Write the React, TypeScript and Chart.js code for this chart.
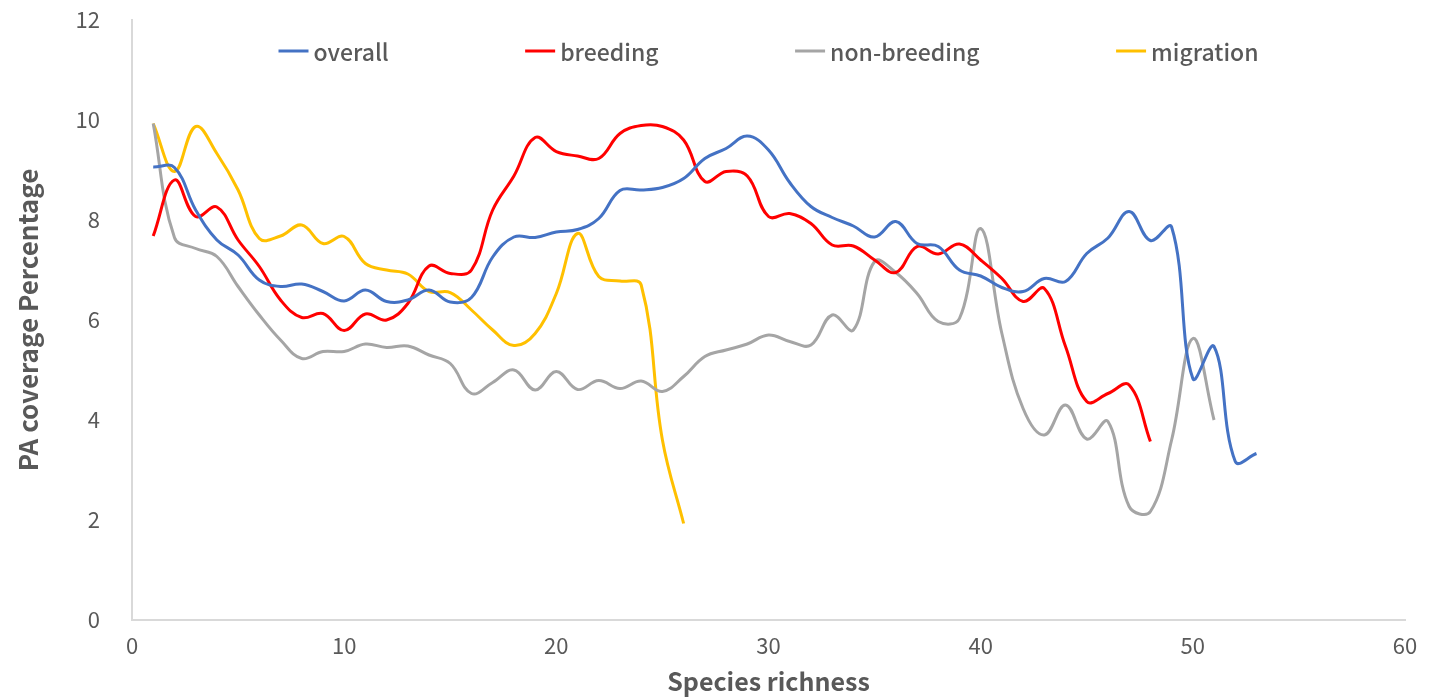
import React, { useEffect, useRef } from "react";
import { Chart, registerables } from "chart.js";

Chart.register(...registerables);

const seriesNames = ["overall", "breeding", "non-breeding", "migration"];
const seriesColors = ["#4472C4", "#FF0000", "#A5A5A5", "#FFC000"];

const richness = [
  1, 2, 3, 4, 5, 6, 7, 8, 9, 10, 11, 12, 13, 14, 15, 16, 17, 18, 19, 20,
  21, 22, 23, 24, 25, 26, 27, 28, 29, 30, 31, 32, 33, 34, 35, 36, 37, 38, 39, 40,
  41, 42, 43, 44, 45, 46, 47, 48, 49, 50, 51, 52, 53,
];

const overall = [
  9.06, 9.05, 8.2, 7.6, 7.3, 6.8, 6.67, 6.72, 6.57, 6.38,
  6.6, 6.37, 6.4, 6.6, 6.36, 6.45, 7.26, 7.66, 7.65, 7.76,
  7.81, 8.03, 8.59, 8.6, 8.65, 8.83, 9.23, 9.43, 9.68, 9.4,
  8.75, 8.27, 8.05, 7.88, 7.66, 7.97, 7.53, 7.47, 7.0, 6.88,
  6.65, 6.57, 6.83, 6.77, 7.33, 7.64, 8.17, 7.59, 7.86, 4.83,
  5.47, 3.17, 3.33,
];

const breeding = [
  7.68, 8.8, 8.07, 8.26, 7.6, 7.07, 6.4, 6.05, 6.13, 5.79,
  6.12, 6.0, 6.33, 7.08, 6.93, 7.0, 8.2, 8.88, 9.65, 9.37,
  9.28, 9.23, 9.73, 9.89, 9.87, 9.6, 8.77, 8.97, 8.88, 8.07,
  8.13, 7.93, 7.5, 7.48, 7.2, 6.95, 7.47, 7.32, 7.52, 7.2,
  6.83, 6.37, 6.63, 5.47, 4.37, 4.53, 4.7, 3.57,
];

const nonBreeding = [
  9.93, 7.65, 7.43, 7.27, 6.67, 6.1, 5.6, 5.23, 5.37, 5.37,
  5.52, 5.45, 5.48, 5.3, 5.13, 4.53, 4.75, 5.0, 4.6, 4.97,
  4.61, 4.79, 4.63, 4.78, 4.57, 4.87, 5.27, 5.4, 5.52, 5.7,
  5.57, 5.5, 6.1, 5.8, 7.17, 6.95, 6.53, 5.97, 6.03, 7.83,
  5.73, 4.23, 3.7, 4.3, 3.62, 3.97, 2.27, 2.17, 3.6, 5.63,
  4.0,
];

const migration = [
  9.93, 8.97, 9.87, 9.33, 8.6, 7.63, 7.68, 7.9, 7.53, 7.67,
  7.13, 7.0, 6.92, 6.57, 6.55, 6.2, 5.8, 5.49, 5.73, 6.53,
  7.73, 6.87, 6.78, 6.7, 3.6, 1.93,
];

const allSeries = [overall, breeding, nonBreeding, migration];

const FONT = "'Noto Sans CJK SC', 'Noto Sans', sans-serif";
const TEXT_COLOR = "#595959";

const legendPlugin = {
  id: "insideLegend",
  afterDraw(chart: any) {
    const { ctx, chartArea } = chart;
    const sampleW = 30;
    const textGap = 5;
    const totalW = 980;
    const y = 51;
    ctx.save();
    ctx.font = `500 23px ${FONT}`;
    const items = chart.data.datasets.map((ds: any) => ({
      label: ds.label,
      color: ds.borderColor,
      w: ctx.measureText(ds.label).width,
    }));
    const itemsW = items.reduce((s: number, it: any) => s + sampleW + textGap + it.w, 0);
    const gap = (totalW - itemsW) / (items.length - 1);
    let x = (chartArea.left + chartArea.right) / 2 - totalW / 2;
    ctx.textBaseline = "middle";
    ctx.textAlign = "left";
    items.forEach((it: any) => {
      ctx.strokeStyle = it.color;
      ctx.lineWidth = 3;
      ctx.beginPath();
      ctx.moveTo(x, y);
      ctx.lineTo(x + sampleW, y);
      ctx.stroke();
      ctx.fillStyle = TEXT_COLOR;
      ctx.fillText(it.label, x + sampleW + textGap, y + 1);
      x += sampleW + textGap + it.w + gap;
    });
    ctx.restore();
  },
};

export default function App() {
  const canvasRef = useRef<HTMLCanvasElement | null>(null);

  useEffect(() => {
    document.body.style.margin = "0";
    const canvas = canvasRef.current;
    if (!canvas) return;
    const chart = new Chart(canvas, {
      type: "line",
      data: {
        datasets: allSeries.map((vals, si) => ({
          label: seriesNames[si],
          data: vals.map((v, i) => ({ x: richness[i], y: v })),
          borderColor: seriesColors[si],
          backgroundColor: seriesColors[si],
          borderWidth: 3,
          pointRadius: 0,
          pointHoverRadius: 0,
          tension: 0.4,
          fill: false,
        })),
      },
      options: {
        animation: false,
        responsive: false,
        maintainAspectRatio: false,
        events: [],
        layout: { padding: { top: 20, right: 34, left: 0, bottom: 0 } },
        plugins: {
          legend: { display: false },
          tooltip: { enabled: false },
        },
        scales: {
          x: {
            type: "linear",
            min: 0,
            max: 60,
            grid: { display: false, drawTicks: false },
            border: { display: true, color: "#d9d9d9", width: 2 },
            ticks: {
              stepSize: 10,
              padding: 12,
              color: TEXT_COLOR,
              font: { family: FONT, size: 22 },
              maxRotation: 0,
            },
            title: {
              display: true,
              text: "Species richness",
              color: TEXT_COLOR,
              font: { family: FONT, size: 25, weight: "bold" },
              padding: { top: 0, bottom: 2 },
            },
            afterFit(scale: any) {
              scale.height = 78;
              scale.paddingLeft = 0;
              scale.paddingRight = 0;
            },
          },
          y: {
            type: "linear",
            min: 0,
            max: 12,
            grid: { display: false, drawTicks: false },
            border: { display: true, color: "#d9d9d9", width: 2 },
            ticks: {
              stepSize: 2,
              padding: 32,
              color: TEXT_COLOR,
              font: { family: FONT, size: 22 },
            },
            title: {
              display: true,
              text: "PA coverage Percentage",
              color: TEXT_COLOR,
              font: { family: FONT, size: 26, weight: "bold" },
              padding: { top: 13, bottom: 0 },
            },
            afterFit(scale: any) {
              scale.width = 132;
              scale.paddingTop = 0;
              scale.paddingBottom = 0;
            },
          },
        },
      },
      plugins: [legendPlugin],
    });
    return () => chart.destroy();
  }, []);

  return (
    <div style={{ width: 1439, height: 698, background: "#fff" }}>
      <canvas ref={canvasRef} width={1439} height={698} style={{ display: "block", width: 1439, height: 698 }} />
    </div>
  );
}
